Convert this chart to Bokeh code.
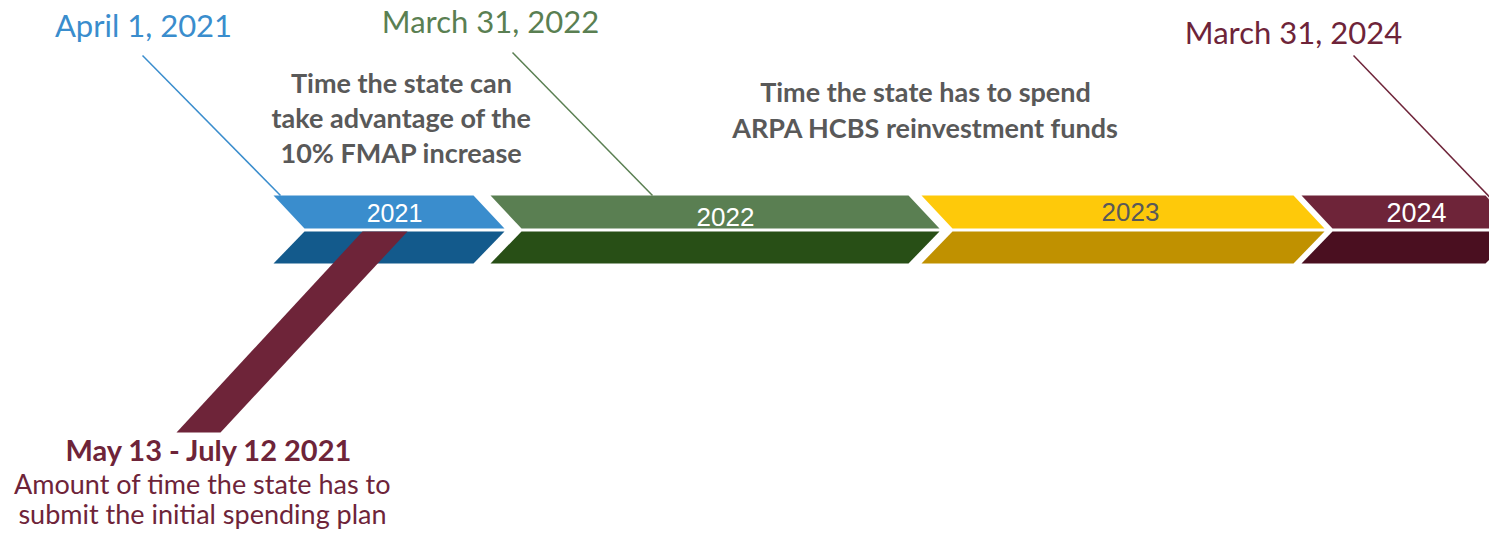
from bokeh.plotting import figure
from bokeh.models import Range1d
from bokeh.embed import file_html
from bokeh.resources import INLINE
from bokeh.core.properties import value

# ---- timeline segments (one chevron per year) ----
years = ["2021", "2022", "2023", "2024"]
seg_start = [273, 490, 921, 1301]
seg_end = [473, 908, 1293, 1485]
upper_colors = ["#3A8DCD", "#5A7F52", "#FEC90A", "#6E2439"]
lower_colors = ["#135A8C", "#284F16", "#C09100", "#4A0F20"]
year_label_colors = ["#FFFFFF", "#FFFFFF", "#595959", "#FFFFFF"]
year_label_x = [394, 725, 1130, 1416]
year_label_y = [212, 216.5, 211.5, 211.5]
year_label_size = ["25px", "26px", "26px", "27px"]

# ---- milestone dates with leader lines ----
dates = ["April 1, 2021", "March 31, 2022", "March 31, 2024"]
date_colors = ["#3A8DCD", "#5A7F52", "#6E2439"]
date_x = [143, 490, 1293]
date_y = [24, 20, 31.5]
leader_x0 = [142, 512, 1353]
leader_y0 = [55, 52, 55]
leader_x1 = [280, 652, 1505]
leader_y1 = [195, 195, 213]

# ---- explanatory notes ----
note1 = ["Time the state can", "take advantage of the", "10% FMAP increase"]
note1_y = [82, 117, 152]
note2 = ["Time the state has to spend", "ARPA HCBS reinvestment funds"]
note2_y = [91, 127]
plan_title = "May 13 - July 12 2021"
plan_title_y = 449
plan_lines = ["Amount of time the state has to", "submit the initial spending plan"]
plan_lines_y = [483, 513]

DEPTH = 31
TOP, MID_A, MID_B, BOT = 195, 228, 231, 263

p = figure(width=1489, height=530, x_range=Range1d(0, 1489), y_range=Range1d(530, 0),
           output_backend="svg", toolbar_location=None, min_border=0,
           x_axis_location=None, y_axis_location=None)
p.grid.visible = False
p.outline_line_color = None
p.background_fill_color = "white"
p.border_fill_color = "white"

up_xs, up_ys, lo_xs, lo_ys = [], [], [], []
for L, R in zip(seg_start, seg_end):
    up_xs.append([L, R, R + DEPTH, L + DEPTH])
    up_ys.append([TOP, TOP, MID_A, MID_A])
    lo_xs.append([L + DEPTH, R + DEPTH, R, L])
    lo_ys.append([MID_B, MID_B, BOT, BOT])

p.patches(up_xs, up_ys, fill_color=upper_colors, line_color=None)
p.patches(lo_xs, lo_ys, fill_color=lower_colors, line_color=None)

# diagonal band for the spending-plan window
p.patch([362, 407, 220, 176], [231, 231, 432, 432], fill_color="#6E2439", line_color=None)

for i, yr in enumerate(years):
    p.text(x=[year_label_x[i]], y=[year_label_y[i]], text=[yr],
           text_font=value("Liberation Sans"), text_font_size=value(year_label_size[i]),
           text_align="center", text_baseline="alphabetic", text_color=year_label_colors[i])

p.segment(x0=leader_x0, y0=leader_y0, x1=leader_x1, y1=leader_y1,
          line_color=date_colors, line_width=1.5)

p.text(x=date_x, y=date_y, text=dates, text_font=value("Lato"), text_font_size=value("31px"),
       text_align="center", text_baseline="alphabetic", text_color=date_colors)

p.text(x=[401] * len(note1), y=note1_y, text=note1, text_font=value("Lato"),
       text_font_size=value("27px"), text_font_style="bold",
       text_align="center", text_baseline="alphabetic", text_color="#595959")
p.text(x=[925] * len(note2), y=note2_y, text=note2, text_font=value("Lato"),
       text_font_size=value("27px"), text_font_style="bold",
       text_align="center", text_baseline="alphabetic", text_color="#595959")

p.text(x=[209], y=[plan_title_y], text=[plan_title], text_font=value("Lato"),
       text_font_size=value("29px"), text_font_style="bold",
       text_align="center", text_baseline="alphabetic", text_color="#6E2439")
p.text(x=[202] * len(plan_lines), y=plan_lines_y, text=plan_lines, text_font=value("Lato"),
       text_font_size=value("27px"),
       text_align="center", text_baseline="alphabetic", text_color="#6E2439")

open("out.html", "w").write(file_html(p, INLINE))
